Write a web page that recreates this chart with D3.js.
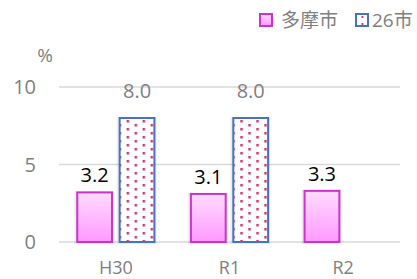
<!DOCTYPE html>
<html>
<head>
<meta charset="utf-8">
<script src="https://cdn.jsdelivr.net/npm/d3@7"></script>
<style>
  body { margin: 0; background: #fff; }
  text { font-family: "Open Sans", "Noto Sans CJK JP", sans-serif; }
</style>
</head>
<body>
<script>
(function(){

//data
var categories = ["H30", "R1", "R2"];
var seriesNames = ["多摩市", "26市"];
var tamaValues = [3.2, 3.1, 3.3];
var cityValues = [8.0, 8.0, null];
var yTicks = [0, 5, 10];

//chart dimensions
var width = 417, height = 279;
var left = 59, right = 400, top = 87, bottom = 242;

var svg = d3.select("body").append("svg")
  .attr("width", width)
  .attr("height", height);

var defs = svg.append("defs");

var x0 = d3.scaleBand()
  .domain(categories)
  .range([left, right]);

var x1 = d3.scaleBand()
  .domain(seriesNames)
  .range([0, x0.bandwidth()])
  .paddingInner(0.18)
  .paddingOuter(0.43);

var y = d3.scaleLinear()
  .domain([0, 10])
  .range([bottom, top]);

//gradient for 多摩市 bars
var grad = defs.append("linearGradient")
  .attr("id", "tamaGrad")
  .attr("x1", 0).attr("y1", 0).attr("x2", 0).attr("y2", 1);
grad.append("stop").attr("offset", "0%").attr("stop-color", "#ffdcff");
grad.append("stop").attr("offset", "100%").attr("stop-color", "#ff99ff");

//dot pattern for 26市 bars (staggered columns)
var pat = defs.append("pattern")
  .attr("id", "dots")
  .attr("patternUnits", "userSpaceOnUse")
  .attr("width", 16).attr("height", 8)
  .attr("x", x1(seriesNames[1]) + 7).attr("y", 0);
pat.append("rect").attr("width", 16).attr("height", 8).attr("fill", "#fff");
[[0, 0], [8, 4]].forEach(function(p){
  pat.append("rect")
    .attr("x", p[0]).attr("y", p[1])
    .attr("width", 2.5).attr("height", 2.5)
    .attr("fill", "#d6336b");
});

//gridlines
svg.selectAll(".grid")
  .data(yTicks)
  .enter()
  .append("line")
  .attr("x1", left).attr("x2", right)
  .attr("y1", function(d){ return y(d); })
  .attr("y2", function(d){ return y(d); })
  .attr("stroke", "#d9d9d9")
  .attr("stroke-width", 1.5);

//y tick labels
svg.selectAll(".ytick")
  .data(yTicks)
  .enter()
  .append("text")
  .attr("x", 36)
  .attr("y", function(d){ return y(d) + 7; })
  .attr("text-anchor", "end")
  .attr("fill", "#7f7f7f")
  .style("font-size", "20px")
  .text(function(d){ return d; });

svg.append("text")
  .attr("x", 45).attr("y", 62)
  .attr("text-anchor", "middle")
  .attr("fill", "#7f7f7f")
  .style("font-size", "19px")
  .text("%");

//x labels (kept just inside the bottom edge)
svg.selectAll(".xlab")
  .data(categories)
  .enter()
  .append("text")
  .attr("x", function(d){ return x0(d) + x0.bandwidth() / 2; })
  .attr("y", 274)
  .attr("text-anchor", "middle")
  .attr("fill", "#7f7f7f")
  .style("font-size", "18px")
  .text(function(d){ return d; });

//bars
var groups = svg.selectAll(".grp")
  .data(categories)
  .enter()
  .append("g")
  .attr("transform", function(d){ return "translate(" + x0(d) + ",0)"; });

function drawBar(g, series, value, fill, stroke){
  if (value == null) return;
  var bx = x1(series), bw = x1.bandwidth(), by = y(value), bh = bottom - y(value);
  //soft shadow
  g.append("rect")
    .attr("x", bx - 3).attr("y", by - 1)
    .attr("width", bw + 5).attr("height", bh + 3)
    .attr("fill", "#000").attr("opacity", 0.07);
  g.append("rect")
    .attr("x", bx).attr("y", by)
    .attr("width", bw).attr("height", bh)
    .attr("fill", fill)
    .attr("stroke", stroke)
    .attr("stroke-width", 2);
}

groups.each(function(d, i){
  var g = d3.select(this);
  drawBar(g, seriesNames[0], tamaValues[i], "url(#tamaGrad)", "#cc33cc");
  drawBar(g, seriesNames[1], cityValues[i], "url(#dots)", "#4472c4");

  g.append("text")
    .attr("x", x1(seriesNames[0]) + x1.bandwidth() / 2)
    .attr("y", y(tamaValues[i]) - 10)
    .attr("text-anchor", "middle")
    .attr("fill", "#000")
    .style("font-size", "20px")
    .text(tamaValues[i].toFixed(1));

  if (cityValues[i] != null) {
    g.append("text")
      .attr("x", x1(seriesNames[1]) + x1.bandwidth() / 2)
      .attr("y", y(cityValues[i]) - 20)
      .attr("text-anchor", "middle")
      .attr("fill", "#7f7f7f")
      .style("font-size", "20px")
      .text(cityValues[i].toFixed(1));
  }
});

//legend
var legend = [
  {name: seriesNames[0], x: 259, tx: 281, fill: "url(#tamaGrad)", stroke: "#cc33cc"},
  {name: seriesNames[1], x: 355, tx: 372, fill: "#fff", stroke: "#4472c4"}
];
legend.forEach(function(l){
  svg.append("rect")
    .attr("x", l.x + 1).attr("y", 14)
    .attr("width", 12).attr("height", 12)
    .attr("fill", l.fill)
    .attr("stroke", l.stroke)
    .attr("stroke-width", 2);
  svg.append("text")
    .attr("x", l.tx).attr("y", 27)
    .attr("fill", "#7f7f7f")
    .style("font-size", "19px")
    .text(l.name);
});
//small dots in the 26市 legend box
svg.append("rect").attr("x", 361.5).attr("y", 16).attr("width", 1.8).attr("height", 2).attr("fill", "#d6336b");
svg.append("rect").attr("x", 361.5).attr("y", 23).attr("width", 1.8).attr("height", 2).attr("fill", "#d6336b");

})();
</script>
</body>
</html>
